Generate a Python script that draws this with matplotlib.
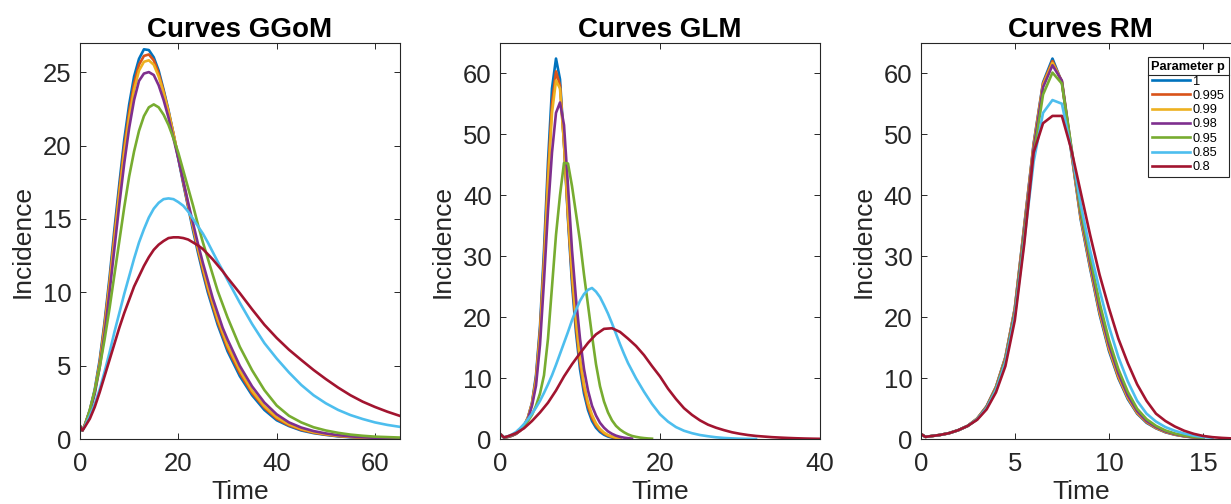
import numpy as np
import matplotlib
matplotlib.use('Agg')
import matplotlib.pyplot as plt
from matplotlib.lines import Line2D

plt.rcParams['font.family'] = ['Liberation Sans', 'DejaVu Sans']

# ---------------- data ----------------
labels = ['1', '0.995', '0.99', '0.98', '0.95', '0.85', '0.8']

# GGoM panel
ggom_t = [0, 0.5, 1] + list(range(2, 31)) + [32.5, 35, 37.5, 40, 42.5, 45, 47.5, 50,
                                             52.5, 55, 57.5, 60, 62.5, 65]
ggom_1 = [0.9, 0.6, 1.0,
          2.0, 3.4, 5.4, 8.0, 11.0, 14.3, 17.4, 20.4, 22.8, 24.7, 25.9, 26.55, 26.5, 26.0, 25.1, 23.8, 22.4,
          20.8, 19.1, 17.4, 15.8, 14.2, 12.7, 11.3, 10.0, 8.9, 7.8, 6.9, 6.0,
          4.3, 3.0, 2.0, 1.3, 0.9, 0.6, 0.42, 0.3, 0.2, 0.14, 0.1, 0.07, 0.05, 0.04]
ggom_0995 = [0.9, 0.6, 1.0,
             1.95, 3.3, 5.2, 7.8, 10.7, 13.9, 17.0, 19.9, 22.3, 24.2, 25.5, 26.1, 26.2, 25.8, 24.9, 23.7, 22.3,
             20.8, 19.2, 17.5, 15.9, 14.4, 12.9, 11.5, 10.2, 9.1, 8.0, 7.1, 6.2,
             4.5, 3.15, 2.15, 1.4, 0.95, 0.65, 0.45, 0.32, 0.22, 0.16, 0.11, 0.08, 0.06, 0.04]
ggom_099 = [0.9, 0.6, 1.0,
            1.9, 3.25, 5.1, 7.6, 10.5, 13.6, 16.7, 19.5, 21.9, 23.8, 25.1, 25.7, 25.8, 25.5, 24.7, 23.6, 22.3,
            20.8, 19.2, 17.6, 16.0, 14.5, 13.0, 11.7, 10.4, 9.3, 8.2, 7.3, 6.4,
            4.7, 3.3, 2.25, 1.5, 1.02, 0.7, 0.49, 0.35, 0.24, 0.17, 0.12, 0.09, 0.065, 0.05]
ggom_098 = [0.9, 0.6, 0.95,
            1.85, 3.1, 4.9, 7.2, 10.0, 13.0, 16.0, 18.8, 21.2, 23.1, 24.4, 24.9, 25.0, 24.8, 24.1, 23.1, 21.9,
            20.5, 19.1, 17.6, 16.1, 14.7, 13.3, 12.0, 10.8, 9.6, 8.6, 7.6, 6.8,
            5.0, 3.6, 2.5, 1.7, 1.15, 0.8, 0.56, 0.4, 0.28, 0.2, 0.14, 0.1, 0.07, 0.05]
ggom_095 = [0.9, 0.6, 0.95,
            2.0, 3.3, 4.9, 6.8, 8.9, 11.2, 13.5, 15.8, 17.9, 19.6, 21.0, 22.0, 22.6, 22.8, 22.6, 22.1, 21.4,
            20.5, 19.5, 18.3, 17.1, 15.9, 14.6, 13.4, 12.3, 11.2, 10.1, 9.2, 8.3,
            6.3, 4.7, 3.35, 2.3, 1.6, 1.15, 0.82, 0.6, 0.44, 0.32, 0.24, 0.18, 0.15, 0.12]
ggom_085 = [0.9, 0.6, 0.9,
            1.6, 2.4, 3.4, 4.6, 5.9, 7.3, 8.6, 9.9, 11.1, 12.3, 13.4, 14.3, 15.1, 15.7, 16.1, 16.35, 16.4,
            16.35, 16.15, 15.9, 15.5, 15.0, 14.5, 14.0, 13.4, 12.75, 12.1, 11.5, 10.85,
            9.3, 7.85, 6.55, 5.5, 4.55, 3.7, 3.0, 2.45, 2.0, 1.65, 1.38, 1.15, 0.98, 0.85]
ggom_08 = [0.9, 0.6, 0.85,
           1.4, 2.2, 3.2, 4.3, 5.4, 6.5, 7.6, 8.6, 9.5, 10.4, 11.1, 11.8, 12.4, 12.9, 13.25, 13.5, 13.7,
           13.75, 13.75, 13.7, 13.6, 13.4, 13.2, 12.95, 12.6, 12.25, 11.85, 11.45, 11.0,
           9.95, 8.85, 7.8, 6.9, 6.1, 5.4, 4.72, 4.1, 3.52, 3.0, 2.56, 2.2, 1.88, 1.6]

# GLM panel
glm_t_1 = np.arange(0, 15.01, 0.5)
glm_1 = [0.9, 0.3, 0.4, 0.6, 0.9, 1.4, 2.2, 3.6, 6.0, 10.5, 18.5, 31.0, 45.5, 57.5, 62.4, 59.0,
         48.5, 36.0, 25.5, 17.5, 11.5, 7.5, 4.8, 3.0, 1.9, 1.2, 0.75, 0.45, 0.28, 0.17, 0.1]
glm_0995 = [0.9, 0.3, 0.4, 0.6, 0.9, 1.4, 2.2, 3.6, 5.9, 10.0, 17.8, 29.5, 43.5, 55.0, 60.3, 58.0,
            48.5, 36.5, 26.5, 18.5, 12.5, 8.3, 5.4, 3.5, 2.3, 1.5, 0.95, 0.6, 0.37, 0.22, 0.13]
glm_099 = [0.9, 0.3, 0.4, 0.6, 0.9, 1.4, 2.2, 3.6, 5.8, 9.6, 17.0, 28.5, 42.0, 53.5, 58.8, 57.5,
           48.5, 37.0, 27.5, 19.5, 13.3, 9.0, 6.0, 4.0, 2.6, 1.7, 1.1, 0.7, 0.45, 0.27, 0.16]
glm_t_098 = np.arange(0, 16.51, 0.5)
glm_098 = [0.9, 0.3, 0.4, 0.6, 0.9, 1.4, 2.1, 3.4, 5.5, 8.8, 15.5, 26.0, 37.5, 47.0, 53.5, 55.2,
           51.5, 41.5, 31.0, 23.0, 16.5, 11.5, 8.0, 5.5, 3.9, 2.7, 1.9, 1.3, 0.9, 0.6, 0.4, 0.27, 0.18, 0.12]
glm_t_095 = np.arange(0, 19.01, 0.5)
glm_095 = [0.9, 0.3, 0.45, 0.7, 1.0, 1.5, 2.1, 3.0, 4.0, 5.5, 7.5, 10.5, 16.5, 25.0, 33.5, 40.0,
           45.3, 45.2, 41.5, 37.0, 32.5, 27.0, 22.0, 17.0, 12.3, 8.7, 6.2, 4.4, 3.1, 2.2, 1.6, 1.15,
           0.8, 0.55, 0.4, 0.28, 0.2, 0.14, 0.1]
glm_t_085 = np.concatenate([np.arange(0, 16.01, 0.5), np.arange(17, 32.01, 1)])
glm_085 = [0.9, 0.3, 0.5, 0.8, 1.2, 1.8, 2.5, 3.3, 4.2, 5.2, 6.3, 7.6, 9.0, 10.5, 12.2, 14.0,
           15.8, 17.6, 19.5, 21.2, 22.7, 23.8, 24.5, 24.8, 24.2, 23.3, 22.0, 20.6, 19.0, 17.3, 15.6,
           14.0, 12.5,
           10.0, 7.8, 5.8, 4.1, 2.9, 2.0, 1.4, 1.0, 0.7, 0.5, 0.33, 0.22, 0.15, 0.1, 0.07, 0.05]
glm_t_08 = np.concatenate([[0, 0.5], np.arange(1, 40.01, 1)])
glm_08 = [0.9, 0.3, 0.5, 1.0, 1.8, 3.0, 4.4, 6.0, 8.0, 10.3, 12.3, 14.1, 15.8, 17.2, 18.1, 18.2,
          17.6, 16.5, 15.3, 13.8, 12.0, 10.3, 8.3, 6.6, 5.1, 4.0, 3.1, 2.4, 1.9, 1.5, 1.15, 0.9,
          0.7, 0.55, 0.45, 0.35, 0.28, 0.22, 0.17, 0.13, 0.1, 0.08]

# RM panel
rm_t_15 = np.concatenate([[0, 0.25], np.arange(0.5, 15.01, 0.5)])
rm_1 = [0.9, 0.4, 0.5, 0.7, 1.0, 1.5, 2.2, 3.4, 5.4, 8.6, 13.5, 21.5, 35.0, 48.5, 58.5, 62.4,
        58.5, 47.0, 36.0, 28.0, 20.5, 14.5, 10.0, 6.6, 4.2, 2.7, 1.8, 1.15, 0.75, 0.48, 0.3, 0.2]
rm_0995 = [0.9, 0.4, 0.5, 0.7, 1.0, 1.5, 2.2, 3.4, 5.4, 8.6, 13.4, 21.4, 34.8, 48.3, 58.3, 62.0,
           58.6, 47.2, 36.3, 28.3, 20.8, 14.8, 10.2, 6.8, 4.3, 2.8, 1.85, 1.2, 0.78, 0.5, 0.32, 0.2]
rm_099 = [0.9, 0.4, 0.5, 0.7, 1.0, 1.5, 2.2, 3.4, 5.3, 8.5, 13.3, 21.3, 34.6, 48.1, 58.1, 61.7,
          58.7, 47.4, 36.5, 28.5, 21.0, 15.0, 10.4, 6.9, 4.4, 2.9, 1.9, 1.25, 0.8, 0.52, 0.33, 0.21]
rm_098 = [0.9, 0.4, 0.5, 0.7, 1.0, 1.5, 2.2, 3.3, 5.3, 8.4, 13.1, 21.0, 34.2, 47.6, 57.7, 61.3,
          58.8, 47.8, 37.0, 29.0, 21.5, 15.5, 10.8, 7.2, 4.6, 3.0, 2.0, 1.3, 0.85, 0.55, 0.35, 0.22]
rm_095 = [0.9, 0.4, 0.5, 0.7, 1.0, 1.5, 2.2, 3.3, 5.2, 8.3, 12.9, 20.6, 33.4, 46.5, 56.5, 60.1,
          58.3, 48.0, 37.5, 29.8, 22.4, 16.3, 11.5, 7.8, 5.0, 3.3, 2.2, 1.45, 0.95, 0.62, 0.4, 0.25]
rm_t_155 = np.concatenate([[0, 0.25], np.arange(0.5, 15.51, 0.5)])
rm_085 = [0.9, 0.4, 0.5, 0.7, 1.0, 1.5, 2.2, 3.3, 5.1, 8.1, 12.6, 20.2, 32.5, 45.5, 53.5, 55.6,
          55.0, 47.5, 38.5, 31.0, 24.5, 18.5, 13.5, 9.5, 6.3, 4.2, 2.9, 2.0, 1.4, 0.95, 0.6, 0.38, 0.25]
rm_t_17 = np.concatenate([[0, 0.25], np.arange(0.5, 17.01, 0.5)])
rm_08 = [0.9, 0.4, 0.5, 0.7, 1.0, 1.5, 2.2, 3.2, 4.9, 7.7, 12.0, 19.5, 32.0, 47.0, 51.8, 53.0,
         53.0, 47.5, 40.5, 33.5, 27.0, 21.5, 16.5, 12.5, 9.0, 6.3, 4.2, 3.0, 2.1, 1.4, 0.9, 0.55,
         0.35, 0.23, 0.15, 0.1]

ggom_series = [ggom_1, ggom_0995, ggom_099, ggom_098, ggom_095, ggom_085, ggom_08]
glm_series = [(glm_t_1, glm_1), (glm_t_1, glm_0995), (glm_t_1, glm_099), (glm_t_098, glm_098),
              (glm_t_095, glm_095), (glm_t_085, glm_085), (glm_t_08, glm_08)]
rm_series = [(rm_t_15, rm_1), (rm_t_15, rm_0995), (rm_t_15, rm_099), (rm_t_15, rm_098),
             (rm_t_15, rm_095), (rm_t_155, rm_085), (rm_t_17, rm_08)]

# ---------------- style ----------------
colors = ['#0072BD', '#D95319', '#EDB120', '#7E2F8E', '#77AC30', '#4DBEEE', '#A2142F']
W, H = 1231, 504
fig = plt.figure(figsize=(W / 100, H / 100), dpi=100)

top_px, bot_px = 42.7, 439.3
def add_ax(left_px, width_px):
    return fig.add_axes([left_px / W, (H - bot_px) / H, width_px / W, (bot_px - top_px) / H])

ax1 = add_ax(80, 319.6)
ax2 = add_ax(500, 320)
ax3 = add_ax(920.7, 320)

dark = '#262626'
lw = 1.9

for c, v, lab in zip(colors, ggom_series, labels):
    ax1.plot(ggom_t, v, color=c, lw=lw, label=lab)
for c, (t, v), lab in zip(colors, glm_series, labels):
    ax2.plot(t, v, color=c, lw=lw, label=lab)
for c, (t, v), lab in zip(colors, rm_series, labels):
    ax3.plot(t, v, color=c, lw=lw, label=lab)

ax1.set_xlim(0, 65); ax1.set_ylim(0, 27)
ax1.set_xticks([0, 20, 40, 60]); ax1.set_yticks([0, 5, 10, 15, 20, 25])
ax2.set_xlim(0, 40); ax2.set_ylim(0, 65)
ax2.set_xticks([0, 20, 40]); ax2.set_yticks([0, 10, 20, 30, 40, 50, 60])
ax3.set_xlim(0, 17); ax3.set_ylim(0, 65)
ax3.set_xticks([0, 5, 10, 15]); ax3.set_yticks([0, 10, 20, 30, 40, 50, 60])

for ax, title in zip([ax1, ax2, ax3], ['Curves GGoM', 'Curves GLM', 'Curves RM']):
    ax.set_title(title, fontsize=20, fontweight='bold', pad=4, color='black')
    ax.set_xlabel('Time', fontsize=19, color=dark, labelpad=3)
    ax.set_ylabel('Incidence', fontsize=19, color=dark, labelpad=6)
    ax.tick_params(direction='in', length=4, width=0.7, top=True, right=True,
                   labelsize=18.5, colors=dark)
    ax.tick_params(axis='x', pad=9)
    ax.tick_params(axis='y', pad=6)
    for s in ax.spines.values():
        s.set_linewidth(0.8)
        s.set_color(dark)

leg = ax3.legend(loc='upper right', bbox_to_anchor=(0.9634, 0.963), fontsize=9.2,
                 title='Parameter p', title_fontproperties={'weight': 'bold', 'size': 9.2},
                 handlelength=3.0, handletextpad=0.2, labelspacing=0.18, borderpad=0.3,
                 borderaxespad=0, fancybox=False, framealpha=1, edgecolor=dark)
leg.get_frame().set_linewidth(0.8)
for txt in leg.get_texts():
    txt.set_color('black')

fig.canvas.draw()
lb = leg.get_window_extent()
tb = leg.get_title().get_window_extent()
inv = fig.transFigure.inverted()
y_sep = tb.y0 - 1.5
(x0f, yf), (x1f, _) = inv.transform([(lb.x0, y_sep), (lb.x1, y_sep)])
fig.add_artist(Line2D([x0f, x1f], [yf, yf], color=dark, lw=0.8, transform=fig.transFigure))

fig.savefig('out.png', dpi=100)
